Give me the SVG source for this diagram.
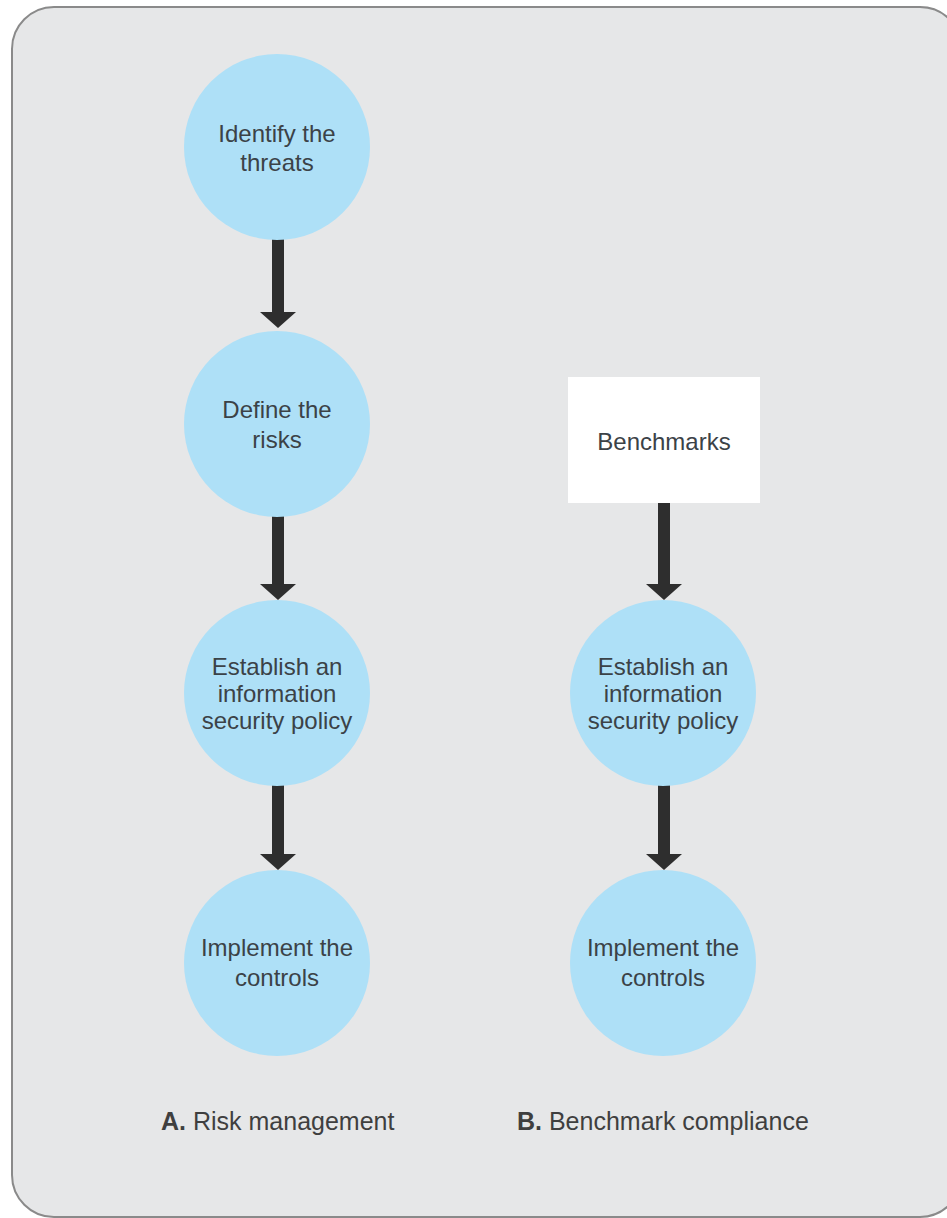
<svg xmlns="http://www.w3.org/2000/svg" width="947" height="1218" viewBox="0 0 947 1218">
<defs>
<style>
.bg{fill:#e6e7e8;stroke:#8a8a8a;stroke-width:2}
.circ{fill:#aee0f7}
.box{fill:#ffffff}
.t{font-family:"Liberation Sans",Arial,sans-serif;font-size:24px;fill:#3b4247;text-anchor:middle}
.lbl{font-family:"Liberation Sans",Arial,sans-serif;font-size:25px;fill:#3f3f3f}
.arr{stroke:#2e2e2e;stroke-width:12;fill:none;marker-end:url(#head)}
</style>
<marker id="head" markerUnits="userSpaceOnUse" markerWidth="17" markerHeight="38" refX="0" refY="19" orient="auto" viewBox="0 0 17 38">
<path d="M0,1 L16,19 L0,37 Z" fill="#2e2e2e"/>
</marker>
</defs>
<rect class="bg" x="12" y="7" width="950" height="1210" rx="42" ry="42"/>
<g id="connectors">
<line class="arr" x1="278" y1="238" x2="278" y2="312"/>
<line class="arr" x1="278" y1="515" x2="278" y2="584"/>
<line class="arr" x1="278" y1="784" x2="278" y2="854"/>
<line class="arr" x1="664" y1="502" x2="664" y2="584"/>
<line class="arr" x1="664" y1="784" x2="664" y2="854"/>
</g>
<g id="n1"><circle class="circ" cx="277" cy="147" r="93"/><text class="t" x="277" y="142">Identify the</text><text class="t" x="277" y="171">threats</text></g>
<g id="n2"><circle class="circ" cx="277" cy="424" r="93"/><text class="t" x="277" y="418">Define the</text><text class="t" x="277" y="448">risks</text></g>
<g id="n3"><circle class="circ" cx="277" cy="693" r="93"/><text class="t" x="277" y="675">Establish an</text><text class="t" x="277" y="702">information</text><text class="t" x="277" y="729">security policy</text></g>
<g id="n4"><circle class="circ" cx="277" cy="963" r="93"/><text class="t" x="277" y="956">Implement the</text><text class="t" x="277" y="986">controls</text></g>
<g id="b0"><rect class="box" x="568" y="377" width="192" height="126"/><text class="t" x="664" y="450">Benchmarks</text></g>
<g id="b1"><circle class="circ" cx="663" cy="693" r="93"/><text class="t" x="663" y="675">Establish an</text><text class="t" x="663" y="702">information</text><text class="t" x="663" y="729">security policy</text></g>
<g id="b2"><circle class="circ" cx="663" cy="963" r="93"/><text class="t" x="663" y="956">Implement the</text><text class="t" x="663" y="986">controls</text></g>
<g id="labels">
<text class="lbl" x="161" y="1130"><tspan font-weight="bold">A.</tspan> Risk management</text>
<text class="lbl" x="517" y="1130"><tspan font-weight="bold">B.</tspan> Benchmark compliance</text>
</g>
</svg>
